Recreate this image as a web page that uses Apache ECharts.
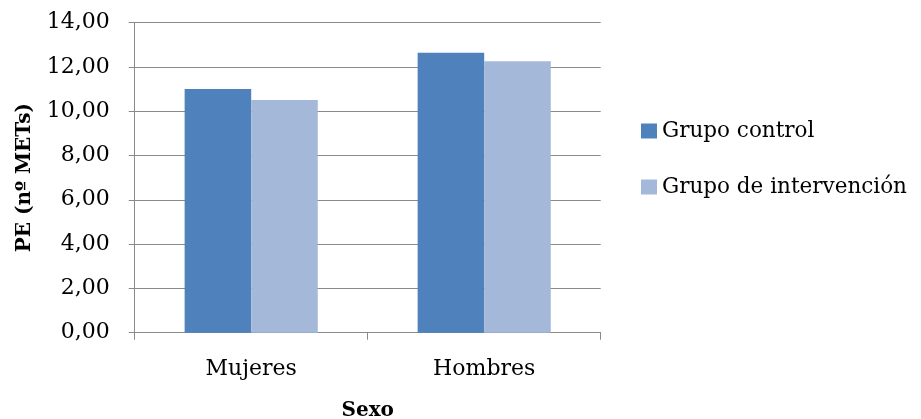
<!DOCTYPE html>
<html>
<head>
<meta charset="utf-8">
<script src="https://cdn.jsdelivr.net/npm/echarts@6/dist/echarts.min.js"></script>
<style>
  html, body { margin: 0; padding: 0; background: #ffffff; }
  #chart { width: 921px; height: 419px; }
</style>
</head>
<body>
<div id="chart"></div>
<script>
// Categories, series and axis ticks
const categories = ['Mujeres', 'Hombres'];
const seriesNames = ['Grupo control', 'Grupo de intervención'];
const grupoControl = [11.00, 12.64];
const grupoIntervencion = [10.50, 12.25];
const yTicks = [0, 2, 4, 6, 8, 10, 12, 14];

const FONT = '"DejaVu Serif", serif';
const AXIS_GREY = '#8a8a8a';

const chart = echarts.init(document.getElementById('chart'), null, { renderer: 'canvas' });

chart.setOption({
  animation: false,
  backgroundColor: '#ffffff',
  textStyle: { fontFamily: FONT, color: '#000000' },
  grid: {
    left: 134.7, top: 22.5, width: 466, height: 310.2,
    containLabel: false,
    outerBoundsMode: 'none'
  },
  legend: {
    orient: 'vertical',
    left: 641,
    top: 120,
    padding: 0,
    itemWidth: 16,
    itemHeight: 15,
    itemGap: 34,
    icon: 'rect',
    textStyle: { fontFamily: FONT, fontSize: 21.5, color: '#000000' },
    data: seriesNames
  },
  xAxis: {
    type: 'category',
    data: categories,
    name: 'Sexo',
    nameLocation: 'middle',
    nameGap: 68,
    nameTextStyle: { fontFamily: FONT, fontSize: 20, fontWeight: 'bold', color: '#000000' },
    axisLine: { show: true, lineStyle: { color: AXIS_GREY, width: 1 } },
    axisTick: { show: true, length: 7, alignWithLabel: false, lineStyle: { color: AXIS_GREY } },
    axisLabel: { fontFamily: FONT, fontSize: 22, color: '#000000', margin: 26 },
    splitLine: { show: false }
  },
  yAxis: {
    type: 'value',
    min: yTicks[0],
    max: yTicks[yTicks.length - 1],
    interval: 2,
    name: 'PE (nº METs)',
    nameLocation: 'middle',
    nameRotate: 90,
    nameGap: 100,
    nameTextStyle: { fontFamily: FONT, fontSize: 20, fontWeight: 'bold', color: '#000000' },
    axisLine: { show: true, lineStyle: { color: AXIS_GREY, width: 1 } },
    axisTick: { show: true, length: 6, lineStyle: { color: AXIS_GREY } },
    axisLabel: {
      fontFamily: FONT,
      fontSize: 22,
      color: '#000000',
      margin: 25,
      formatter: v => v.toFixed(2).replace('.', ',')
    },
    splitLine: { show: true, lineStyle: { color: AXIS_GREY, width: 1 } }
  },
  series: [
    {
      name: seriesNames[0],
      type: 'bar',
      data: grupoControl,
      barGap: '0%',
      barCategoryGap: '42.86%',
      itemStyle: { color: '#4f81bd' }
    },
    {
      name: seriesNames[1],
      type: 'bar',
      data: grupoIntervencion,
      barGap: '0%',
      barCategoryGap: '42.86%',
      itemStyle: { color: '#a4b8da' }
    }
  ]
});
</script>
</body>
</html>
